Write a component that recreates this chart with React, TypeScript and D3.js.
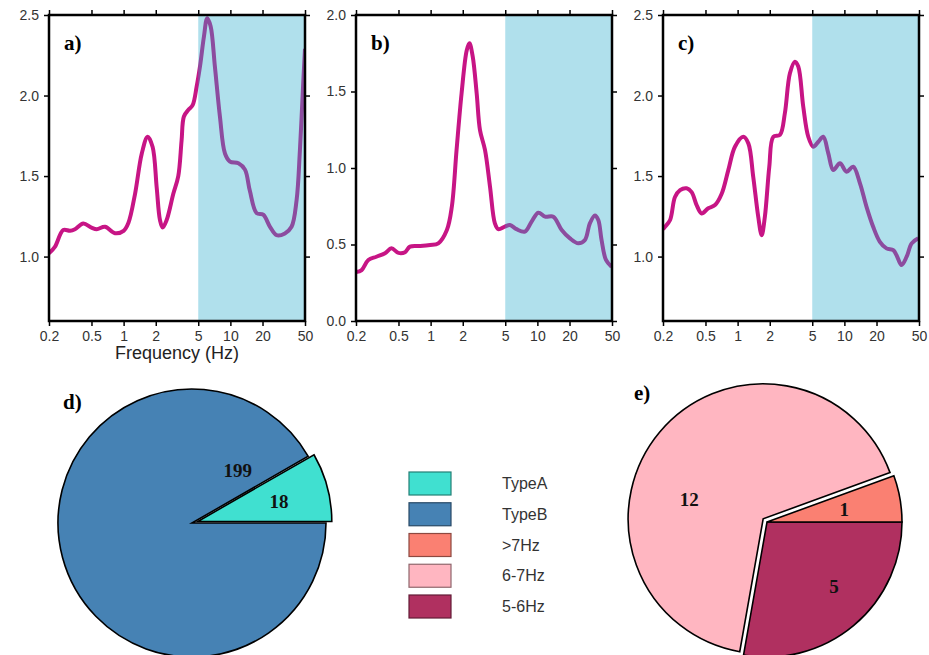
import React, { useEffect, useRef } from 'react'
import * as d3 from 'd3'

// spectral ratio curves (frequency in Hz)
const freqA = [0.2, 0.227, 0.272, 0.315, 0.35, 0.419, 0.5, 0.56, 0.67, 0.83, 1.0, 1.11, 1.28, 1.48, 1.68, 1.87, 2.04, 2.19, 2.32, 2.53, 2.92, 3.25, 3.49, 3.67, 4.03, 4.43, 4.83, 5.19, 5.65, 6.07, 6.53, 7.16, 7.98, 8.9, 9.9, 11.9, 13.7, 15.2, 17.6, 20.3, 23.5, 27.1, 32.4, 37.4, 41.7, 44.8, 48.1, 50]
const ampA = [1.02, 1.06, 1.165, 1.16, 1.17, 1.206, 1.18, 1.17, 1.185, 1.145, 1.16, 1.21, 1.39, 1.64, 1.744, 1.68, 1.43, 1.227, 1.18, 1.227, 1.39, 1.5, 1.72, 1.87, 1.91, 1.94, 2.055, 2.18, 2.365, 2.48, 2.43, 2.18, 1.87, 1.64, 1.59, 1.58, 1.54, 1.41, 1.27, 1.26, 1.185, 1.133, 1.144, 1.185, 1.35, 1.66, 2.076, 2.29]

const freqB = [0.2, 0.226, 0.261, 0.31, 0.374, 0.43, 0.5, 0.576, 0.64, 0.8, 0.99, 1.18, 1.42, 1.58, 1.75, 1.95, 2.18, 2.31, 2.48, 2.7, 2.9, 3.23, 3.6, 4.0, 4.3, 4.97, 5.53, 6.38, 7.64, 8.83, 10.2, 11.8, 14.1, 16.9, 20.2, 24.2, 27.9, 31.0, 34.6, 37.2, 39.9, 43.9, 49.5]
const ampB = [0.32, 0.333, 0.399, 0.42, 0.443, 0.475, 0.445, 0.45, 0.486, 0.49, 0.497, 0.508, 0.595, 0.747, 1.118, 1.488, 1.77, 1.815, 1.728, 1.488, 1.248, 1.118, 0.878, 0.638, 0.6, 0.617, 0.627, 0.6, 0.584, 0.65, 0.708, 0.682, 0.682, 0.595, 0.54, 0.508, 0.53, 0.638, 0.69, 0.66, 0.53, 0.399, 0.355]

const freqC = [0.2, 0.209, 0.233, 0.259, 0.289, 0.333, 0.371, 0.413, 0.46, 0.531, 0.614, 0.709, 0.818, 0.944, 1.13, 1.26, 1.4, 1.56, 1.68, 1.8, 1.98, 2.16, 2.49, 2.77, 3.09, 3.44, 3.7, 4.12, 4.59, 5.11, 5.7, 6.34, 7.07, 7.87, 9.09, 10.5, 12.1, 14.0, 16.1, 18.6, 21.5, 24.8, 28.7, 30.8, 34.3, 38.3, 42.7, 49.2]
const ampC = [1.17, 1.185, 1.227, 1.37, 1.413, 1.424, 1.4, 1.32, 1.268, 1.3, 1.32, 1.39, 1.537, 1.682, 1.744, 1.703, 1.496, 1.247, 1.133, 1.247, 1.558, 1.744, 1.755, 1.89, 2.138, 2.21, 2.18, 1.93, 1.744, 1.682, 1.713, 1.744, 1.641, 1.537, 1.579, 1.527, 1.558, 1.455, 1.31, 1.185, 1.092, 1.051, 1.04, 1.009, 0.947, 0.999, 1.082, 1.113]

const xTicks = [0.2, 0.5, 1, 2, 5, 10, 20, 50]
const xTickLabels = ['0.2', '0.5', '1', '2', '5', '10', '20', '50']
const yTicksAC = [1.0, 1.5, 2.0, 2.5]
const yTicksB = [0.0, 0.5, 1.0, 1.5, 2.0]
const shadeRange = [5, 50]

// pie counts
const typeLabels = ['TypeB', 'TypeA']
const typeCounts = [199, 18]
const bandLabels = ['5-6Hz', '6-7Hz', '>7Hz']
const bandCounts = [5, 12, 1]

const legendLabels = ['TypeA', 'TypeB', '>7Hz', '6-7Hz', '5-6Hz']

const colors: Record<string, string> = {
  TypeA: '#40e0d0',
  TypeB: '#4682b4',
  '>7Hz': '#fa8072',
  '6-7Hz': '#ffb6c1',
  '5-6Hz': '#b03060',
}

const W = 929
const H = 655
const sans = "'Liberation Sans', Arial, sans-serif"
const serif = "'Liberation Serif', 'Times New Roman', serif"

export default function App() {
  const svgRef = useRef<SVGSVGElement>(null)

  useEffect(() => {
    const svg = d3.select(svgRef.current)
    svg.selectAll('*').remove()

    const top = 15
    const bottom = 321
    const pw = 256

    const panels = [
      { name: 'a)', x0: 49, f: freqA, v: ampA, dom: [0.6, 2.5], ticks: yTicksAC },
      { name: 'b)', x0: 356, f: freqB, v: ampB, dom: [0, 2], ticks: yTicksB },
      { name: 'c)', x0: 663, f: freqC, v: ampC, dom: [0.6, 2.5], ticks: yTicksAC },
    ]

    panels.forEach((p, i) => {
      const x = d3.scaleLog().domain([0.2, 50]).range([p.x0, p.x0 + pw])
      const y = d3.scaleLinear().domain(p.dom).range([bottom, top])
      const g = svg.append('g')

      const clipId = 'clip' + i
      g.append('clipPath').attr('id', clipId)
        .append('rect')
        .attr('x', p.x0).attr('y', top).attr('width', pw).attr('height', bottom - top)

      const line = d3.line<number>()
        .x((_, k) => x(p.f[k]))
        .y(d => y(d))
        .curve(d3.curveCatmullRom)

      g.append('path')
        .datum(p.v)
        .attr('clip-path', `url(#${clipId})`)
        .attr('d', line)
        .attr('fill', 'none')
        .attr('stroke', '#c71585')
        .attr('stroke-width', 4)
        .attr('stroke-linejoin', 'round')

      // translucent blue band over the line
      g.append('rect')
        .attr('x', x(shadeRange[0]))
        .attr('y', top)
        .attr('width', x(shadeRange[1]) - x(shadeRange[0]))
        .attr('height', bottom - top)
        .attr('fill', '#29abcc')
        .attr('fill-opacity', 0.37)

      const styleAxis = (a: d3.Selection<SVGGElement, unknown, null, undefined>) => {
        a.select('.domain').remove()
        a.selectAll('line').attr('stroke', '#000').attr('stroke-width', 1.5)
        a.selectAll('text').attr('font-family', sans).attr('font-size', 14).attr('fill', '#333')
      }

      const fmt = d3.format('.1f')
      g.append('g').attr('transform', `translate(0,${bottom})`)
        .call(d3.axisBottom(x).tickValues(xTicks).tickFormat((_, k) => xTickLabels[k]).tickSize(5).tickPadding(5))
        .call(styleAxis)
      g.append('g').attr('transform', `translate(0,${top})`)
        .call(d3.axisTop(x).tickValues(xTicks).tickFormat(() => '').tickSize(5))
        .call(styleAxis)
      g.append('g').attr('transform', `translate(${p.x0},0)`)
        .call(d3.axisLeft(y).tickValues(p.ticks).tickFormat(d => fmt(d as number)).tickSize(5).tickPadding(5))
        .call(styleAxis)
      g.append('g').attr('transform', `translate(${p.x0 + pw},0)`)
        .call(d3.axisRight(y).tickValues(p.ticks).tickFormat(() => '').tickSize(5))
        .call(styleAxis)

      g.append('rect')
        .attr('x', p.x0).attr('y', top).attr('width', pw).attr('height', bottom - top)
        .attr('fill', 'none').attr('stroke', '#000').attr('stroke-width', 2.5)

      g.append('text')
        .attr('x', p.x0 + 15).attr('y', 50)
        .attr('font-family', serif).attr('font-weight', 'bold').attr('font-size', 21)
        .text(p.name)

      if (i === 0) {
        g.append('text')
          .attr('x', p.x0 + pw / 2).attr('y', 359)
          .attr('text-anchor', 'middle')
          .attr('font-family', sans).attr('font-size', 18).attr('fill', '#222')
          .text('Frequency (Hz)')
      }
    })

    // pies; label spots are [angle in degrees clockwise from 12 o'clock, fraction of radius]
    const drawPie = (
      cx: number, cy: number, r: number,
      labels: string[], values: number[], explode: number[],
      labelAt: number[][], label: string, lx: number, ly: number,
    ) => {
      const pie = d3.pie<number>().sort(null).startAngle(Math.PI / 2).endAngle(Math.PI / 2 + 2 * Math.PI)
      const arcs = pie(values)
      const arc = d3.arc<d3.PieArcDatum<number>>().innerRadius(0).outerRadius(r)
      const g = svg.append('g').attr('transform', `translate(${cx},${cy})`)
      arcs.forEach((a, k) => {
        const mid = (a.startAngle + a.endAngle) / 2
        const dx = Math.sin(mid) * explode[k]
        const dy = -Math.cos(mid) * explode[k]
        const s = g.append('g').attr('transform', `translate(${dx},${dy})`)
        s.append('path')
          .attr('d', arc(a))
          .attr('fill', colors[labels[k]])
          .attr('stroke', '#000')
          .attr('stroke-width', 1.6)
          .attr('stroke-linejoin', 'miter')
      })
      arcs.forEach((a, k) => {
        const ang = (labelAt[k][0] * Math.PI) / 180
        const lr = r * labelAt[k][1]
        g.append('text')
          .attr('x', Math.sin(ang) * lr)
          .attr('y', -Math.cos(ang) * lr)
          .attr('dy', '0.35em')
          .attr('text-anchor', 'middle')
          .attr('font-family', serif).attr('font-weight', 'bold').attr('font-size', 19)
          .attr('fill', '#111')
          .text(String(values[k]))
      })
      svg.append('text')
        .attr('x', lx).attr('y', ly)
        .attr('font-family', serif).attr('font-weight', 'bold').attr('font-size', 21)
        .text(label)
    }

    drawPie(192, 523, 134, typeLabels, typeCounts, [0, 6], [[41, 0.52], [76, 0.67]], 'd)', 63, 409)
    drawPie(767, 522, 135, bandLabels, bandCounts, [0, 5, 0], [[134, 0.69], [286, 0.6], [81, 0.58]], 'e)', 634, 400)

    // legend
    const lg = svg.append('g')
    const rowY = d3.scaleLinear().domain([0, legendLabels.length - 1]).range([472, 595])
    legendLabels.forEach((name, k) => {
      lg.append('rect')
        .attr('x', 409).attr('y', rowY(k))
        .attr('width', 42).attr('height', 23)
        .attr('fill', colors[name])
        .attr('stroke', d3.color(colors[name])!.darker(1.6).formatHex())
        .attr('stroke-width', 1.2)
      lg.append('text')
        .attr('x', 502).attr('y', rowY(k) + 11.5)
        .attr('dy', '0.35em')
        .attr('font-family', sans).attr('font-size', 16).attr('fill', '#333')
        .text(name)
    })
  }, [])

  return (
    <svg
      ref={svgRef}
      width={W}
      height={H}
      style={{ position: 'absolute', left: 0, top: 0, background: '#fff' }}
    />
  )
}
